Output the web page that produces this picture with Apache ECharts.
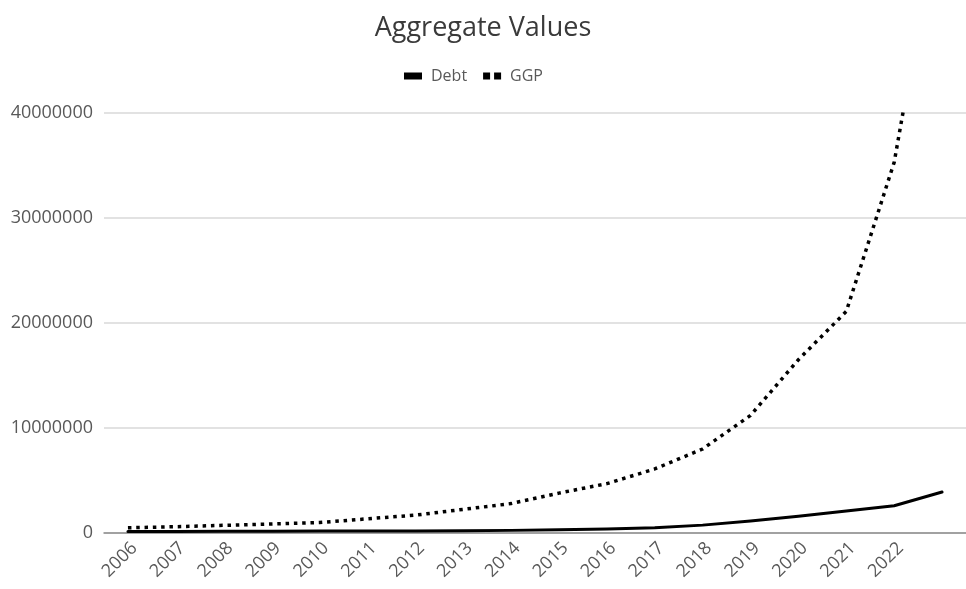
<!DOCTYPE html>
<html>
<head>
<meta charset="utf-8">
<title>Aggregate Values</title>
<script src="https://cdn.jsdelivr.net/npm/echarts@6/dist/echarts.min.js"></script>
<style>
  html, body { margin: 0; padding: 0; background: #ffffff; }
  #chart { width: 966px; height: 589px; }
</style>
</head>
<body>
<div id="chart"></div>
<script>
// Year categories; the final period carries no label on the axis
const years = ['2006', '2007', '2008', '2009', '2010', '2011', '2012', '2013', '2014',
               '2015', '2016', '2017', '2018', '2019', '2020', '2021', '2022', ''];

// Debt per year
const debt = [150000, 150000, 160000, 170000, 180000, 200000, 200000, 220000, 250000,
              300000, 380000, 500000, 750000, 1150000, 1600000, 2100000, 2600000, 3900000];

// GGP per year (the last value runs past the top of the value axis)
const ggp = [500000, 600000, 730000, 860000, 1000000, 1350000, 1700000, 2250000, 2800000,
             3800000, 4700000, 6100000, 8000000, 11200000, 16500000, 21100000, 35300000, 61000000];

// Value axis ticks
const yTicks = { min: 0, max: 40000000, step: 10000000 };

const FONT = '"Open Sans", "Noto Sans", sans-serif';
const chart = echarts.init(document.getElementById('chart'), null, { renderer: 'canvas' });

chart.setOption({
  backgroundColor: '#ffffff',
  animation: false,
  title: {
    text: 'Aggregate Values',
    left: 'center',
    top: 10,
    textStyle: { fontFamily: FONT, fontSize: 27, fontWeight: 'normal', color: '#3a3a3a' }
  },
  legend: {
    top: 63,
    left: 399,
    itemWidth: 18,
    itemHeight: 7,
    itemGap: 16,
    textStyle: { fontFamily: FONT, fontSize: 16, color: '#595959', padding: [0, 0, 0, 4] },
    data: [
      { name: 'Debt', icon: 'rect', itemStyle: { color: '#000000' } },
      { name: 'GGP', icon: 'path://M0,0h7v7h-7z M11,0h7v7h-7z', itemStyle: { color: '#000000' } }
    ]
  },
  grid: { left: 104, top: 113, right: -9, bottom: 56, containLabel: false },
  xAxis: {
    type: 'category',
    data: years,
    boundaryGap: true,
    axisLine: { show: true, lineStyle: { color: '#8c8c8c', width: 1.5 } },
    axisTick: { show: false },
    axisLabel: {
      rotate: 45,
      interval: 0,
      margin: 6,
      verticalAlign: 'top',
      fontFamily: FONT,
      fontSize: 18,
      color: '#595959'
    },
    splitLine: { show: false }
  },
  yAxis: {
    type: 'value',
    min: yTicks.min,
    max: yTicks.max,
    interval: yTicks.step,
    axisLine: { show: false },
    axisTick: { show: false },
    axisLabel: {
      margin: 11,
      fontFamily: FONT,
      fontSize: 18,
      color: '#595959',
      formatter: (v) => String(v)
    },
    splitLine: { show: true, lineStyle: { color: '#d9d9d9', width: 1.5 } }
  },
  series: [
    {
      name: 'Debt',
      type: 'line',
      data: debt,
      symbol: 'none',
      clip: true,
      lineStyle: { color: '#000000', width: 3, cap: 'round', join: 'round' },
      itemStyle: { color: '#000000' }
    },
    {
      name: 'GGP',
      type: 'line',
      data: ggp,
      symbol: 'none',
      clip: true,
      lineStyle: { color: '#000000', width: 3.5, type: [3.5, 4.8], cap: 'butt' },
      itemStyle: { color: '#000000' }
    }
  ]
});
</script>
</body>
</html>
